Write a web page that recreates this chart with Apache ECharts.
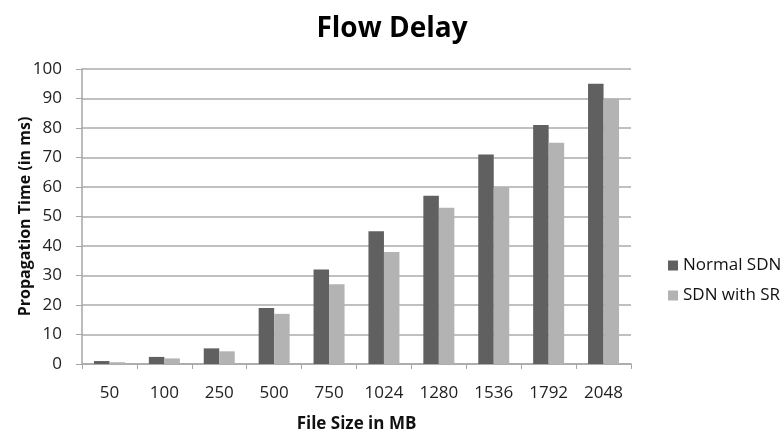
<!DOCTYPE html>
<html>
<head>
<meta charset="utf-8">
<script src="https://cdn.jsdelivr.net/npm/echarts@6/dist/echarts.min.js"></script>
<style>
  html, body { margin: 0; padding: 0; background: #fff; }
  #chart { width: 784px; height: 433px; }
</style>
</head>
<body>
<div id="chart"></div>
<script>
// File sizes (MB) along the x axis
const fileSizes = ['50', '100', '250', '500', '750', '1024', '1280', '1536', '1792', '2048'];
// Propagation time in ms for each setup
const normalSdn = [1, 2.4, 5.3, 19, 32, 45, 57, 71, 81, 95];
const sdnWithSr = [0.6, 1.9, 4.3, 17, 27, 38, 53, 60, 75, 90];
const seriesNames = ['Normal SDN', 'SDN with SR'];

const font = '"Open Sans", "Liberation Sans", sans-serif';
const chart = echarts.init(document.getElementById('chart'));
chart.setOption({
  animation: false,
  backgroundColor: '#ffffff',
  title: {
    text: 'Flow Delay',
    left: 'center',
    top: 10,
    textStyle: { fontFamily: font, fontSize: 28, fontWeight: 'bold', color: '#000' }
  },
  legend: {
    orient: 'vertical',
    left: 663,
    top: 252,
    itemWidth: 10,
    itemHeight: 10,
    itemGap: 13,
    icon: 'rect',
    textStyle: { fontFamily: font, fontSize: 17, color: '#111' },
    data: seriesNames
  },
  grid: { left: 82, right: 153, top: 69, bottom: 69, containLabel: false, outerBoundsMode: 'none' },
  xAxis: {
    type: 'category',
    data: fileSizes,
    name: 'File Size in MB',
    nameLocation: 'middle',
    nameGap: 52,
    nameMoveOverlap: false,
    nameTextStyle: { fontFamily: font, fontSize: 17, fontWeight: 'bold', color: '#111' },
    axisLine: { lineStyle: { color: '#a6a6a6', width: 1.5 } },
    axisTick: { show: true, length: 5, lineStyle: { color: '#a6a6a6' } },
    axisLabel: { fontFamily: font, fontSize: 17, color: '#222', margin: 21 }
  },
  yAxis: {
    type: 'value',
    min: 0,
    max: 100,
    interval: 10,
    name: 'Propagation Time (in ms)',
    nameLocation: 'middle',
    nameGap: 49,
    nameMoveOverlap: false,
    nameTextStyle: { fontFamily: font, fontSize: 16, fontWeight: 'bold', color: '#111' },
    axisLine: { show: true, lineStyle: { color: '#a6a6a6', width: 1.5 } },
    axisTick: { show: true, length: 6, lineStyle: { color: '#a6a6a6' } },
    axisLabel: { fontFamily: font, fontSize: 17, color: '#222', margin: 20 },
    splitLine: { lineStyle: { color: '#ababab', width: 1.5 } }
  },
  series: [
    {
      name: seriesNames[0],
      type: 'bar',
      data: normalSdn,
      barWidth: 15.5,
      barGap: '0%',
      itemStyle: { color: '#606060' }
    },
    {
      name: seriesNames[1],
      type: 'bar',
      data: sdnWithSr,
      barWidth: 15.5,
      barGap: '0%',
      itemStyle: { color: '#b3b3b3' }
    }
  ]
});
</script>
</body>
</html>
